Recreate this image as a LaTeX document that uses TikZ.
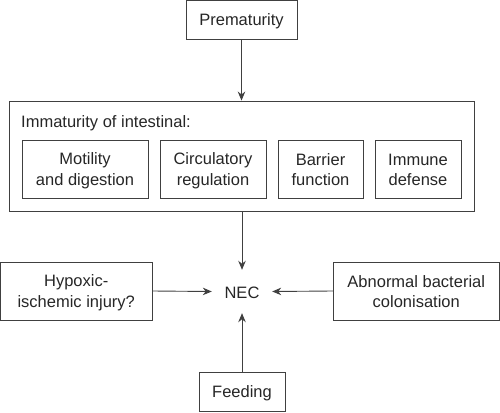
\documentclass[tikz,border=0pt]{standalone}
\usepackage{fontspec}
\setmainfont{Liberation Sans}
\usetikzlibrary{arrows.meta}
\newcommand\mys{\rule[-2pt]{0pt}{17pt}}
\begin{document}
\begin{tikzpicture}[x=1pt,y=-1pt,
  every node/.style={font=\fontsize{16.5}{20.5}\selectfont, text=black!85, align=center, inner sep=0pt},
  box/.style={draw=black!75, line width=0.9pt, rectangle},
  arr/.style={draw=black!75, line width=0.9pt, -{Stealth[length=9pt,width=7.5pt]}}]
\useasboundingbox (0,0) rectangle (500,412);
\node[box, minimum width=111pt, minimum height=39pt] (prem) at (241.5,19.5) {\mys Prematurity};
\node[box, minimum width=465pt, minimum height=110pt] (imm) at (241.5,156) {};
\node[anchor=west] (immt) at (21,122) {\mys Immaturity of intestinal:};
\node[box, minimum width=126pt, minimum height=58pt] (mot) at (85,169) {\mys Motility\\\mys and digestion};
\node[box, minimum width=106pt, minimum height=58pt] (circ) at (213,169) {\mys Circulatory\\\mys regulation};
\node[box, minimum width=85pt, minimum height=58pt] (barr) at (320.5,169) {\mys Barrier\\\mys function};
\node[box, minimum width=86pt, minimum height=58pt] (immu) at (418,169) {\mys Immune\\\mys defense};
\node[minimum width=60pt, minimum height=43pt] (nec) at (242,291.5) {\mys NEC};
\node[box, minimum width=151.5pt, minimum height=58pt] (hyp) at (76.25,291) {\mys Hypoxic-\\\mys ischemic injury?};
\node[box, minimum width=166pt, minimum height=58pt] (abn) at (416.25,291) {\mys Abnormal bacterial\\\mys colonisation};
\node[box, minimum width=86pt, minimum height=39pt] (feed) at (242,391.5) {\mys Feeding};
\draw[arr] (prem.south) -- (prem.south |- imm.north);
\draw[arr] (imm.south -| nec.north) -- (nec.north);
\draw[arr] (hyp.east) -- (nec.west);
\draw[arr] (abn.west) -- (nec.east);
\draw[arr] (feed.north) -- (nec.south);
\end{tikzpicture}
\end{document}
